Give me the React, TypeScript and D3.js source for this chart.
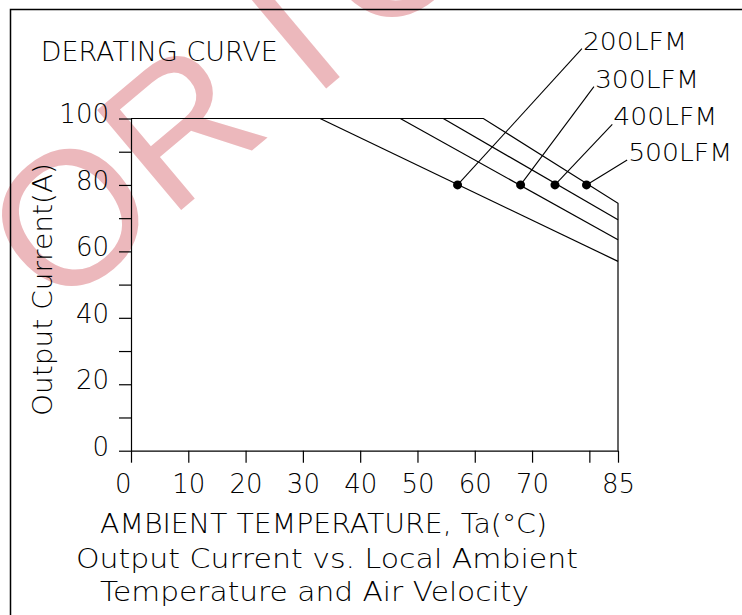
import React, { useEffect, useRef } from "react";
import * as d3 from "d3";

const WIDTH = 742;
const HEIGHT = 615;

// x axis: ambient temperature (°C)
const xTicks = [0, 10, 20, 30, 40, 50, 60, 70, 80, 85];
const xTickLabels = ["0", "10", "20", "30", "40", "50", "60", "70", "", "85"];
// y axis: output current (A)
const yMajorTicks = [0, 20, 40, 60, 80, 100];
const yMinorTicks = [10, 30, 50, 70, 90];

// derating curves, one per air velocity
const airflows = ["200LFM", "300LFM", "400LFM", "500LFM"];
const kneeTemps = [33, 47, 54.5, 61.5]; // last temperature at full load
const endCurrents = [57, 63.5, 69.5, 74.5]; // current allowed at 85°C
const fullLoad = 100;
const maxTemp = 85;

// dots on each curve at 80A, and where the leader line ends
const markerTemps = [57, 68, 74, 79.5];
const markerCurrent = 80;
const labelTemps = [78.7, 80.8, 84, 86.6];
const labelCurrents = [121, 109.6, 98.2, 87.5];

const FONT = "'DejaVu Sans', sans-serif";

const App = () => {
  const ref = useRef<SVGSVGElement | null>(null);

  useEffect(() => {
    const svg = d3.select(ref.current);
    svg.selectAll("*").remove();

    const x = d3.scaleLinear().domain([0, maxTemp]).range([131, 618]);
    const y = d3.scaleLinear().domain([0, fullLoad]).range([450.7, 118.5]);

    // watermark behind everything
    svg.append("text")
      .attr("transform", "translate(56,315) rotate(-40)")
      .attr("font-family", "'Liberation Sans', Arial, sans-serif")
      .attr("font-size", 190)
      .attr("dx", "0 0 50 30 30 30 30 30")
      .attr("fill", "#ecb8bc")
      .text("ORIGINAL");

    // frame
    svg.append("rect")
      .attr("x", 10.5).attr("y", 9.5)
      .attr("width", 900).attr("height", 900)
      .attr("fill", "none").attr("stroke", "#000").attr("stroke-width", 1.5);

    const addText = (txt: string, px: number, py: number, len: number, size = 26) =>
      svg.append("text")
        .attr("x", px).attr("y", py)
        .attr("font-family", FONT)
        .attr("font-weight", 200)
        .attr("font-size", size)
        .attr("textLength", len)
        .attr("lengthAdjust", "spacingAndGlyphs")
        .attr("fill", "#000")
        .text(txt);

    addText("DERATING  CURVE", 40.7, 60.7, 237);

    // y axis
    const yAxis = svg.append("g")
      .attr("transform", `translate(${x(0)},0)`)
      .call(d3.axisLeft(y)
        .tickValues([...yMajorTicks, ...yMinorTicks])
        .tickSize(12)
        .tickSizeOuter(0)
        .tickPadding(10)
        .tickFormat((d) => (yMajorTicks.includes(+d) ? String(d) : "")));
    yAxis.select(".domain").attr("stroke", "#000").attr("stroke-width", 1.2);
    yAxis.selectAll(".tick line").attr("stroke", "#000").attr("stroke-width", 1.2);
    yAxis.selectAll(".tick text")
      .attr("font-family", FONT).attr("font-weight", 200)
      .attr("font-size", 26).attr("fill", "#000")
      .attr("dy", "0.17em");

    // x axis
    const xAxis = svg.append("g")
      .attr("transform", `translate(0,${y(0)})`)
      .call(d3.axisBottom(x)
        .tickValues(xTicks)
        .tickSize(12)
        .tickSizeOuter(0)
        .tickFormat((_, i) => xTickLabels[i]));
    xAxis.select(".domain").attr("stroke", "#000").attr("stroke-width", 1.2);
    xAxis.selectAll(".tick line").attr("stroke", "#000").attr("stroke-width", 1.2);
    xAxis.selectAll(".tick text")
      .attr("font-family", FONT).attr("font-weight", 200)
      .attr("font-size", 26).attr("fill", "#000")
      .attr("y", 42.8).attr("dy", 0)
      .attr("text-anchor", (_, i) => (i === 0 ? "end" : "middle"));

    // curves
    const line = d3.line<[number, number]>().x((d) => x(d[0])).y((d) => y(d[1]));
    airflows.forEach((_, i) => {
      const pts: [number, number][] = [[kneeTemps[i], fullLoad], [maxTemp, endCurrents[i]]];
      if (i === airflows.length - 1) {
        pts.unshift([0, fullLoad]);
        pts.push([maxTemp, 0]);
      }
      svg.append("path")
        .attr("d", line(pts))
        .attr("fill", "none").attr("stroke", "#000").attr("stroke-width", 1.2);
    });

    // markers, leaders and labels
    airflows.forEach((name, i) => {
      svg.append("line")
        .attr("x1", x(markerTemps[i])).attr("y1", y(markerCurrent))
        .attr("x2", x(labelTemps[i])).attr("y2", y(labelCurrents[i]))
        .attr("stroke", "#000").attr("stroke-width", 1.1);
      svg.append("circle")
        .attr("cx", x(markerTemps[i])).attr("cy", y(markerCurrent))
        .attr("r", 4.5).attr("fill", "#000");
      addText(name, x(labelTemps[i]) + 1, y(labelCurrents[i]) + 1, 104, 25);
    });

    // axis titles
    addText("AMBIENT TEMPERATURE, Ta(°C)", 100, 533, 447);
    addText("Output Current vs. Local Ambient", 76, 568, 502);
    addText("Temperature and Air Velocity", 100, 600.7, 429);
    addText("Output Current(A)", 0, 0, 253)
      .attr("x", null).attr("y", null)
      .attr("transform", "translate(52,416) rotate(-90)");
  }, []);

  return (
    <svg
      ref={ref}
      width={WIDTH}
      height={HEIGHT}
      style={{ position: "absolute", left: 0, top: 0, background: "#fff" }}
    />
  );
};

export default App;
